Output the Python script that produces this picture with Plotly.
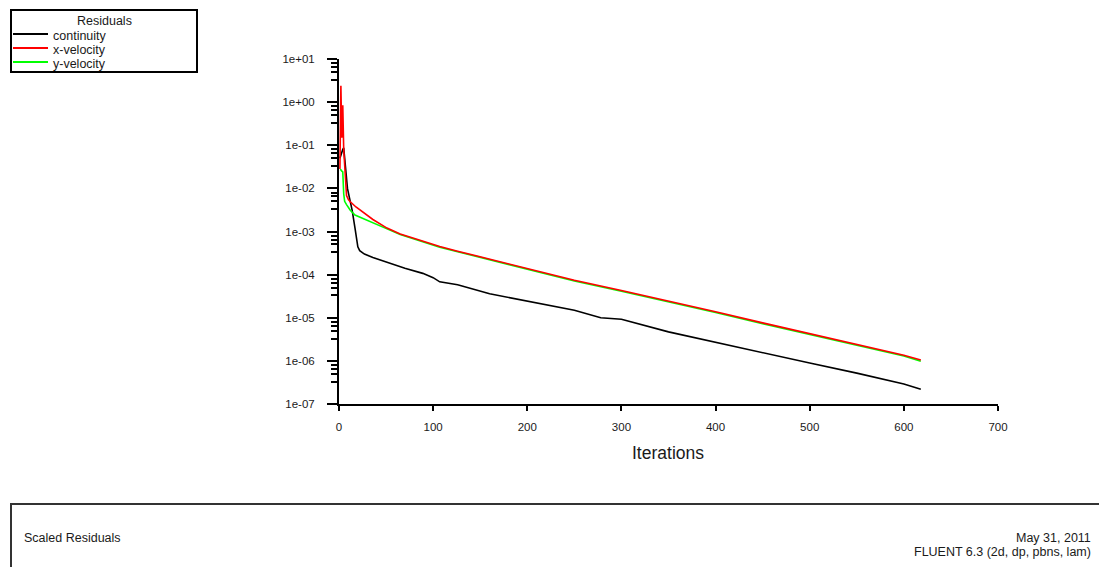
import plotly.graph_objects as go

# ---------------- data ----------------
series_names = ["continuity", "x-velocity", "y-velocity"]
series_colors = ["#000000", "#ff0000", "#00ff00"]

iter_cont = [1, 2, 3, 4, 5, 6, 7, 8, 9, 11, 14, 17, 20, 22, 27, 36, 54, 70, 89, 100,
             107, 126, 160, 213, 250, 278, 300, 350, 400, 450, 500, 550, 600, 618]
res_cont = [0.05, 0.06, 0.07, 0.08, 0.087, 0.05, 0.027, 0.013, 0.01, 0.0062, 0.0031,
            0.0012, 0.00044, 0.00036, 0.0003, 0.00025, 0.00018, 0.00014, 0.000107,
            0.000085, 0.000068, 0.000058, 0.000036, 0.000021, 0.000015, 0.00001,
            0.0000092, 0.0000047, 0.0000027, 0.0000015, 0.00000089, 0.00000052,
            0.00000029, 0.00000022]

iter_xvel = [1, 2, 3, 4, 5, 6, 7, 8, 10, 12, 18, 25, 36, 51, 65, 81, 100, 107, 126,
             150, 200, 250, 300, 350, 400, 450, 500, 550, 600, 618]
res_xvel = [0.028, 2.4, 0.15, 0.85, 0.08, 0.03, 0.012, 0.0068, 0.0055, 0.0049, 0.0037,
            0.0029, 0.0019, 0.0012, 0.00088, 0.00068, 0.0005, 0.00045, 0.00035,
            0.00026, 0.000138, 0.000074, 0.000043, 0.0000245, 0.0000138, 0.0000076,
            0.0000043, 0.0000024, 0.00000135, 0.00000105]

iter_yvel = [1, 2, 3, 4, 5, 6, 8, 12, 17, 25, 36, 51, 65, 81, 100, 107, 126, 150, 200,
             250, 300, 350, 400, 450, 500, 550, 600, 618]
res_yvel = [0.027, 0.027, 0.025, 0.024, 0.0075, 0.005, 0.0042, 0.0031, 0.0024, 0.002,
            0.0016, 0.00115, 0.00085, 0.00065, 0.00048, 0.00043, 0.00034, 0.00025,
            0.000133, 0.000071, 0.000041, 0.0000235, 0.0000132, 0.0000073,
            0.0000041, 0.0000023, 0.0000013, 0.00000098]

x_tickvals = [0, 100, 200, 300, 400, 500, 600, 700]
y_tickvals = [1e1, 1e0, 1e-1, 1e-2, 1e-3, 1e-4, 1e-5, 1e-6, 1e-7]
y_ticktext = ["1e+01", "1e+00", "1e-01", "1e-02", "1e-03", "1e-04", "1e-05", "1e-06", "1e-07"]
minor_multipliers = [8, 6.5, 5, 3.3]

legend_title = "Residuals"
footer_left = "Scaled Residuals"
footer_right = ["May 31, 2011", "FLUENT 6.3 (2d, dp, pbns, lam)"]
x_title = "Iterations"

# ---------------- layout geometry ----------------
W, H = 1099, 567
L, R, T, B = 339, 998, 59, 404
FONT = "Liberation Sans, Arial, sans-serif"
TXT = "#1a1a1a"
SMALL = 12.5


def px(x):
    return (x - L) / (R - L)


def py(y):
    return (B - y) / (B - T)


minor_vals = [m * d for d in [1e0, 1e-1, 1e-2, 1e-3, 1e-4, 1e-5, 1e-6, 1e-7]
              for m in minor_multipliers]

fig = go.Figure()
for xs, ys, name, col in [(iter_cont, res_cont, series_names[0], series_colors[0]),
                          (iter_yvel, res_yvel, series_names[2], series_colors[2]),
                          (iter_xvel, res_xvel, series_names[1], series_colors[1])]:
    fig.add_trace(go.Scatter(x=xs, y=ys, mode="lines", name=name,
                             line=dict(color=col, width=1.6), showlegend=False))

fig.update_layout(
    width=W, height=H,
    margin=dict(l=L, r=W - R, t=T, b=H - B),
    paper_bgcolor="white", plot_bgcolor="white",
    font=dict(family=FONT, size=11, color=TXT),
    showlegend=False,
)
fig.update_xaxes(
    range=[0, 700], tickmode="array", tickvals=x_tickvals,
    showline=True, linecolor="black", linewidth=2,
    ticks="outside", ticklen=5, tickwidth=1.5, tickcolor="black",
    ticklabelstandoff=6,
    showgrid=False, zeroline=False,
    tickfont=dict(family=FONT, size=11.5, color=TXT),
)
fig.update_yaxes(
    type="log", range=[-7, 1], tickmode="array", tickvals=y_tickvals, ticktext=y_ticktext,
    showline=True, linecolor="black", linewidth=2,
    ticks="outside", ticklen=10, tickwidth=1.5, tickcolor="black",
    ticklabelstandoff=10,
    minor=dict(tickmode="array", tickvals=minor_vals, ticks="outside", ticklen=6,
               tickwidth=1.5, tickcolor="black", showgrid=False),
    showgrid=False, zeroline=False,
    tickfont=dict(family=FONT, size=11.5, color=TXT),
)

shapes = []
annotations = []

# x axis title
annotations.append(dict(x=px(668), y=py(453), xref="paper", yref="paper", text=x_title,
                        showarrow=False, xanchor="center", yanchor="middle",
                        font=dict(family=FONT, size=17.5, color=TXT)))

# legend box
shapes.append(dict(type="rect", xref="paper", yref="paper",
                   x0=px(11), x1=px(197), y0=py(72), y1=py(10),
                   line=dict(color="black", width=2), fillcolor="rgba(0,0,0,0)"))
annotations.append(dict(x=px(104), y=py(21), xref="paper", yref="paper", text=legend_title,
                        showarrow=False, xanchor="center", yanchor="middle",
                        font=dict(family=FONT, size=SMALL, color=TXT)))
for i, (name, col) in enumerate(zip(series_names, series_colors)):
    yy = 34 + 14 * i
    shapes.append(dict(type="line", xref="paper", yref="paper",
                       x0=px(13), x1=px(48), y0=py(yy), y1=py(yy),
                       line=dict(color=col, width=2)))
    annotations.append(dict(x=px(51), y=py(yy + 2), xref="paper", yref="paper", text=name,
                            showarrow=False, xanchor="left", yanchor="middle",
                            font=dict(family=FONT, size=SMALL, color=TXT)))

# footer box
shapes.append(dict(type="rect", xref="paper", yref="paper",
                   x0=px(11), x1=px(1120), y0=py(590), y1=py(504),
                   line=dict(color="#333333", width=2), fillcolor="rgba(0,0,0,0)"))
annotations.append(dict(x=px(22), y=py(538), xref="paper", yref="paper", text=footer_left,
                        showarrow=False, xanchor="left", yanchor="middle",
                        font=dict(family=FONT, size=SMALL, color=TXT)))
for i, t in enumerate(footer_right):
    annotations.append(dict(x=px(1093), y=py(538 + 14 * i), xref="paper", yref="paper",
                            text=t, showarrow=False, xanchor="right", yanchor="middle",
                            font=dict(family=FONT, size=SMALL, color=TXT)))

fig.update_layout(shapes=shapes, annotations=annotations)
fig.write_html("out.html", config={"displayModeBar": False},
               post_script="document.body.style.margin='0';document.body.style.overflow='hidden';")
